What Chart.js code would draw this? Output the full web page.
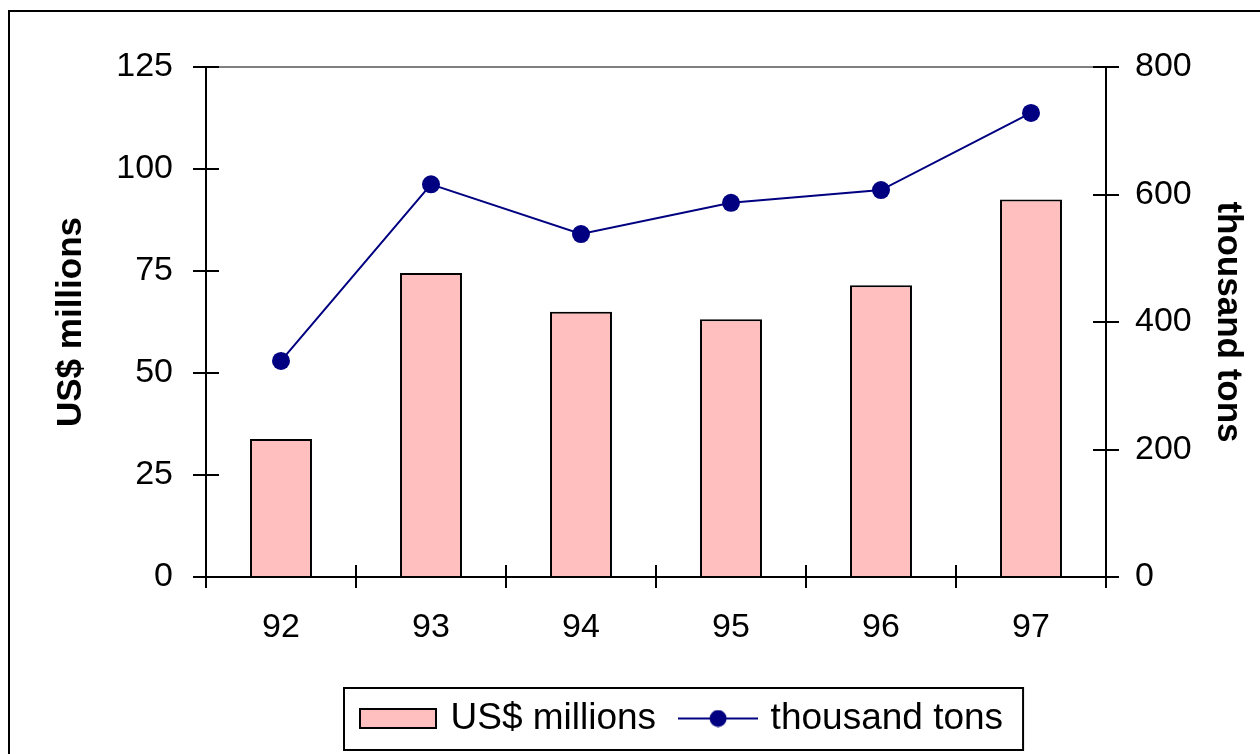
<!DOCTYPE html>
<html>
<head>
<meta charset="utf-8">
<script src="https://cdn.jsdelivr.net/npm/chart.js@4/dist/chart.umd.min.js"></script>
<style>
  html, body { margin: 0; padding: 0; background: #fff; }
  canvas { display: block; }
</style>
</head>
<body>
<canvas id="chart" width="1260" height="754"></canvas>
<script>
// Annual figures
const years = ['92', '93', '94', '95', '96', '97'];
const usdMillions = [33.8, 74.5, 65.0, 63.2, 71.5, 92.5];
const thousandTons = [339, 616, 538, 587, 607, 728];

// Axis tick values
const leftTicks = [0, 25, 50, 75, 100, 125];
const rightTicks = [0, 200, 400, 600, 800];

const FONT = '"Liberation Sans", Arial, Helvetica, sans-serif';
const PINK = '#FFBFBF';
const NAVY = '#000080';

// Plot rectangle and legend placement
const PLOT = { left: 206, right: 1106, top: 67, bottom: 577 };
const LEGEND_POS = { left: 336, top: 672 };

Chart.defaults.font.family = FONT;
Chart.defaults.color = '#000';

function barSwatch() {
  const c = document.createElement('canvas');
  c.width = 78; c.height = 21;
  const g = c.getContext('2d');
  g.fillStyle = PINK;
  g.fillRect(1, 1, 76, 19);
  g.strokeStyle = '#000';
  g.lineWidth = 2;
  g.strokeRect(1, 1, 76, 19);
  return c;
}

function lineSwatch() {
  const c = document.createElement('canvas');
  c.width = 80; c.height = 18;
  const g = c.getContext('2d');
  g.strokeStyle = NAVY;
  g.lineWidth = 2;
  g.beginPath();
  g.moveTo(0, 9); g.lineTo(80, 9);
  g.stroke();
  g.fillStyle = NAVY;
  g.beginPath();
  g.arc(40, 9, 8.5, 0, Math.PI * 2);
  g.fill();
  return c;
}

const swatches = [barSwatch(), lineSwatch()];

// Frame, plot top edge, crossing tick marks and legend box
const decorations = {
  id: 'decorations',
  afterLayout(chart) {
    const lg = chart.legend;
    const w = lg.right - lg.left;
    const h = lg.bottom - lg.top;
    lg.left = LEGEND_POS.left; lg.right = lg.left + w + 400;
    lg.top = LEGEND_POS.top; lg.bottom = lg.top + h;
  },
  beforeDraw(chart) {
    const ctx = chart.ctx;
    ctx.save();
    ctx.fillStyle = '#fff';
    ctx.fillRect(0, 0, chart.width, chart.height);
    ctx.strokeStyle = '#000';
    ctx.lineWidth = 2;
    ctx.strokeRect(9, 11, chart.width + 100, chart.height + 100);
    ctx.restore();
  },
  beforeDatasetsDraw(chart) {
    const { ctx, chartArea } = chart;
    ctx.save();
    ctx.strokeStyle = '#808080';
    ctx.lineWidth = 2;
    ctx.beginPath();
    ctx.moveTo(chartArea.left, chartArea.top);
    ctx.lineTo(chartArea.right, chartArea.top);
    ctx.stroke();
    ctx.restore();
  },
  afterDraw(chart) {
    const { ctx, chartArea, scales } = chart;
    ctx.save();
    ctx.strokeStyle = '#000';
    ctx.lineWidth = 2;
    ctx.beginPath();
    scales.y.ticks.forEach((t, i) => {
      const py = Math.round(scales.y.getPixelForTick(i));
      ctx.moveTo(chartArea.left, py);
      ctx.lineTo(chartArea.left + 13, py);
    });
    scales.y1.ticks.forEach((t, i) => {
      const py = Math.round(scales.y1.getPixelForTick(i));
      ctx.moveTo(chartArea.right, py);
      ctx.lineTo(chartArea.right - 13, py);
    });
    const n = scales.x.ticks.length;
    const half = (scales.x.getPixelForTick(1) - scales.x.getPixelForTick(0)) / 2;
    for (let i = 0; i <= n; i++) {
      const px = Math.round(i < n ? scales.x.getPixelForTick(i) - half : scales.x.getPixelForTick(n - 1) + half);
      ctx.moveTo(px, chartArea.bottom);
      ctx.lineTo(px, chartArea.bottom - 12);
    }
    ctx.stroke();

    // legend box
    const hb = chart.legend.legendHitBoxes;
    if (hb && hb.length) {
      const first = hb[0], last = hb[hb.length - 1];
      const x0 = first.left - 20;
      const x1 = last.left + last.width + 20;
      const y0 = first.top - 12;
      const y1 = first.top + first.height + 13;
      ctx.strokeStyle = '#000';
      ctx.lineWidth = 2;
      ctx.strokeRect(x0, y0, x1 - x0, y1 - y0);
    }
    ctx.restore();
  }
};

new Chart(document.getElementById('chart'), {
  type: 'bar',
  data: {
    labels: years,
    datasets: [
      {
        type: 'bar',
        label: 'US$ millions',
        data: usdMillions,
        yAxisID: 'y',
        backgroundColor: PINK,
        borderColor: '#000',
        borderWidth: 2,
        barPercentage: 0.413,
        categoryPercentage: 1
      },
      {
        type: 'line',
        label: 'thousand tons',
        data: thousandTons,
        yAxisID: 'y1',
        borderColor: NAVY,
        borderWidth: 2,
        backgroundColor: NAVY,
        pointBackgroundColor: NAVY,
        pointBorderColor: NAVY,
        pointBorderWidth: 0,
        pointRadius: 9,
        tension: 0,
        fill: false
      }
    ]
  },
  options: {
    responsive: false,
    devicePixelRatio: 1,
    animation: false,
    layout: { padding: { left: 0, right: 0, top: PLOT.top, bottom: 0 } },
    plugins: {
      tooltip: { enabled: false },
      legend: {
        display: true,
        position: 'bottom',
        align: 'start',
        labels: {
          usePointStyle: true,
          pointStyleWidth: 68,
          padding: 28,
          color: '#000',
          font: { size: 37, family: FONT },
          generateLabels(chart) {
            const items = Chart.defaults.plugins.legend.labels.generateLabels(chart);
            items.forEach(it => { it.pointStyle = swatches[it.datasetIndex]; });
            return items;
          }
        }
      }
    },
    scales: {
      x: {
        offset: true,
        grid: {
          display: true, offset: true, drawOnChartArea: false, drawTicks: true,
          tickLength: 11, color: '#000', lineWidth: 2
        },
        border: { display: true, color: '#000', width: 2 },
        ticks: { font: { size: 34 }, color: '#000', padding: 19, maxRotation: 0 },
        afterFit(scale) {
          scale.height = scale.chart.height - PLOT.bottom - scale.chart.legend.height;
        }
      },
      y: {
        position: 'left',
        min: leftTicks[0],
        max: leftTicks[leftTicks.length - 1],
        ticks: { stepSize: leftTicks[1] - leftTicks[0], font: { size: 34 }, color: '#000', padding: 20 },
        grid: { drawOnChartArea: false, drawTicks: true, tickLength: 13, color: '#000', lineWidth: 2 },
        border: { display: true, color: '#000', width: 2 },
        title: {
          display: true, text: 'US$ millions', color: '#000',
          font: { size: 35, weight: 'bold' }, padding: { top: 50.5, bottom: 0 }
        },
        afterFit(scale) { scale.width = PLOT.left; }
      },
      y1: {
        position: 'right',
        min: rightTicks[0],
        max: rightTicks[rightTicks.length - 1],
        ticks: { stepSize: rightTicks[1] - rightTicks[0], font: { size: 34 }, color: '#000', padding: 16 },
        grid: { drawOnChartArea: false, drawTicks: true, tickLength: 13, color: '#000', lineWidth: 2 },
        border: { display: true, color: '#000', width: 2 },
        title: {
          display: true, text: 'thousand tons', color: '#000',
          font: { size: 35, weight: 'bold' }, padding: { top: 11.5, bottom: 0 }
        },
        afterFit(scale) { scale.width = 1260 - PLOT.right; }
      }
    }
  },
  plugins: [decorations]
});
</script>
</body>
</html>
